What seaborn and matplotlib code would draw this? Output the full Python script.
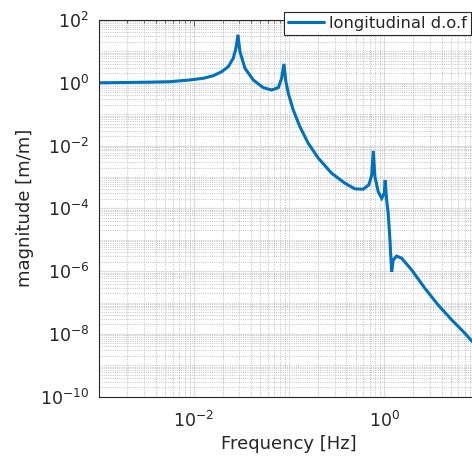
import numpy as np
import pandas as pd
import matplotlib
matplotlib.use("Agg")
import matplotlib.pyplot as plt
import matplotlib.ticker as mticker
import seaborn as sns

# Values (log10 of frequency [Hz] and magnitude [m/m])
log10_freq = [-3.0, -2.7, -2.462, -2.252, -2.042, -1.902, -1.797, -1.709, -1.640,
              -1.587, -1.559, -1.538, -1.517, -1.464, -1.377, -1.272, -1.184,
              -1.114, -1.079, -1.055, -1.034, -1.009, -0.957, -0.887, -0.799,
              -0.694, -0.554, -0.414, -0.309, -0.222, -0.162, -0.133, -0.116,
              -0.099, -0.064, -0.028, -0.001, 0.009, 0.024, 0.041, 0.059,
              0.077, 0.094, 0.129, 0.182, 0.287, 0.427, 0.566, 0.707, 0.847,
              0.917, 1.0]
log10_mag = [0.0, 0.01, 0.02, 0.035, 0.09, 0.143, 0.226, 0.354, 0.513,
             0.78, 1.10, 1.53, 0.99, 0.46, 0.09, -0.155, -0.23,
             -0.155, 0.143, 0.60, 0.035, -0.335, -0.866, -1.40, -1.93,
             -2.40, -2.88, -3.20, -3.38, -3.39, -3.25, -2.94, -2.17,
             -2.99, -3.47, -3.68, -3.52, -3.10, -3.73, -4.16, -5.01,
             -6.02, -5.64, -5.52, -5.59, -5.96, -6.55, -7.08, -7.55, -7.98,
             -8.22, -8.45]
series_label = "longitudinal d.o.f"
y_ticks = [1e-10, 1e-8, 1e-6, 1e-4, 1e-2, 1e0, 1e2]
x_ticks = [1e-2, 1e0]

df = pd.DataFrame({"freq": np.power(10.0, log10_freq),
                   "mag": np.power(10.0, log10_mag),
                   "series": series_label})

sns.set_theme(style="white")
plt.rcParams["font.family"] = ["DejaVu Sans"]
txt = "#262626"
plt.rcParams.update({"text.color": txt, "axes.labelcolor": txt,
                     "xtick.color": txt, "ytick.color": txt})

fig = plt.figure(figsize=(4.72, 4.59), dpi=100)
ax = fig.add_axes([98.8 / 472, 1 - 396.7 / 459, (479.5 - 98.8) / 472, (396.7 - 20) / 459])

sns.lineplot(data=df, x="freq", y="mag", hue="series", palette=["#0072BD"],
             linewidth=2.2, ax=ax, sort=False, estimator=None)
ax.get_lines()[0].set_solid_joinstyle("miter")

ax.set_xscale("log")
ax.set_yscale("log")
ax.set_xlim(1e-3, 1e1)
ax.set_ylim(1e-10, 1e2)
ax.set_yticks(y_ticks)
ax.set_xticks(x_ticks)
ax.xaxis.set_minor_locator(mticker.LogLocator(base=10, subs=np.arange(1, 10), numticks=50))
ax.yaxis.set_minor_locator(mticker.LogLocator(base=10, subs=np.arange(1, 10), numticks=50))
ax.xaxis.set_minor_formatter(mticker.NullFormatter())
ax.yaxis.set_minor_formatter(mticker.NullFormatter())

ax.grid(True, which="major", color="#dedede", linestyle="-", linewidth=0.9)
ax.grid(True, which="minor", color="#b0b0b0", linestyle=":", linewidth=0.6)
ax.set_axisbelow(True)

for s in ax.spines.values():
    s.set_color(txt)
    s.set_linewidth(0.8)
ax.tick_params(which="both", direction="in", top=True, right=True, labelsize=12.5)
ax.tick_params(axis="x", which="major", pad=10)
ax.tick_params(axis="y", which="major", pad=7)
ax.tick_params(which="major", length=4, width=0.6)
ax.tick_params(which="minor", length=2, width=0.5)

ax.set_xlabel("Frequency [Hz]", fontsize=13, labelpad=3)
ax.set_ylabel("magnitude [m/m]", fontsize=13, labelpad=4)

leg = ax.legend(loc="upper left", bbox_to_anchor=(284.3 / 472, 1 - 11.5 / 459),
                bbox_transform=fig.transFigure, borderaxespad=0, fancybox=False,
                framealpha=1, edgecolor="#262626", fontsize=11.8, handlelength=2.2,
                handletextpad=0.3, borderpad=0.25)
leg.get_frame().set_linewidth(0.8)
leg.set_title(None)

fig.savefig("out.png", dpi=100)
